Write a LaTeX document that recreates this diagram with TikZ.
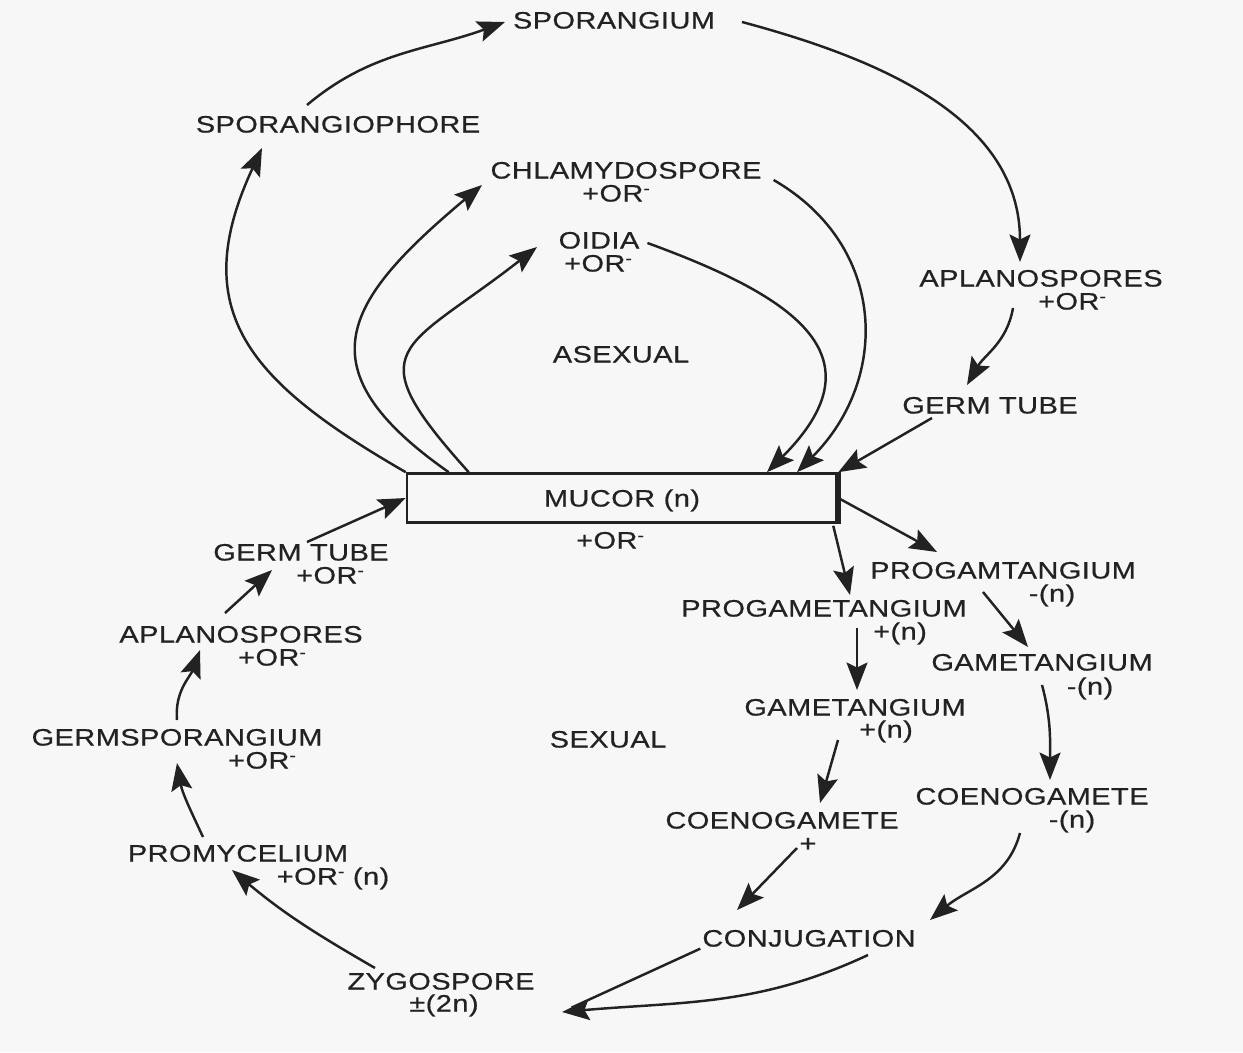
\documentclass[tikz,border=0pt]{standalone}
\usepackage{fontspec}
\usepackage{xcolor}
\usepackage{tikz}
\usetikzlibrary{arrows.meta,positioning,calc}
\newfontfamily\labelfont[FakeStretch=1.22, LetterSpace=2, FakeBold=0.6]{Liberation Sans}
\newcommand\orsign{+OR\raisebox{0.33em}{\fontsize{9}{9}\selectfont -}}
\definecolor{ink}{RGB}{34,34,34}
\definecolor{paper}{RGB}{247,247,247}

\begin{document}
\begin{tikzpicture}[x=0.02cm, y=-0.02cm,
    lbl/.style={inner sep=1pt, text=ink, text height=9.7pt, text depth=0pt,
                font=\labelfont\fontsize{13.5}{16}\selectfont},
    arr/.style={draw=ink, line width=1.4pt, -{Stealth[length=5.5mm,width=4.2mm,inset=1mm]}},
    lnk/.style={draw=ink, line width=1.4pt}]
        \fill[paper] (0,0) rectangle (1243,1052);
        \useasboundingbox (0,0) rectangle (1243,1052);

        \node[lbl] (spor) at (614,20) {SPORANGIUM};
        \node[lbl] (spph) at (338,124) {SPORANGIOPHORE};
        \node[lbl] (chla) at (626,170) {CHLAMYDOSPORE};
        \node[lbl] (chlapm) at (616,193) {\orsign};
        \node[lbl] (oid) at (599,240) {OIDIA};
        \node[lbl] (oidpm) at (598,263) {\orsign};
        \node[lbl] (asex) at (621,354) {ASEXUAL};
        \node[lbl] (aplr) at (1041,278) {APLANOSPORES};
        \node[lbl] (aplrpm) at (1072,301) {\orsign};
        \node[lbl] (gtr) at (990,405) {GERM TUBE};

        \node[lbl, draw=ink, line width=1.5pt, minimum width=8.6cm, minimum height=0.98cm] (mucor) at (622,498) {MUCOR (n)};
        \node[lbl] (mucpm) at (610,540) {\orsign};

        \node[lbl] (pgmr) at (1003,570) {PROGAMTANGIUM};
        \node[lbl] (pgmrpm) at (1052,593) {-(n)};
        \node[lbl] (pgml) at (824,608) {PROGAMETANGIUM};
        \node[lbl] (pgmlpm) at (900,631) {+(n)};
        \node[lbl] (gmr) at (1042,662) {GAMETANGIUM};
        \node[lbl] (gmrpm) at (1090,686) {-(n)};
        \node[lbl] (gml) at (855,707) {GAMETANGIUM};
        \node[lbl] (gmlpm) at (886,729) {+(n)};
        \node[lbl] (sex) at (608,739) {SEXUAL};
        \node[lbl] (coer) at (1032,796) {COENOGAMETE};
        \node[lbl] (coerpm) at (1072,819) {-(n)};
        \node[lbl] (coel) at (782,820) {COENOGAMETE};
        \node[lbl] (coelpm) at (808,843) {+};
        \node[lbl] (conj) at (809,938) {CONJUGATION};
        \node[lbl] (zyg) at (441,981) {ZYGOSPORE};
        \node[lbl] (zygpm) at (444,1003) {±(2n)};

        \node[lbl] (prom) at (238,853) {PROMYCELIUM};
        \node[lbl] (prompm) at (333,876) {\orsign\ (n)};
        \node[lbl] (gsp) at (177,737) {GERMSPORANGIUM};
        \node[lbl] (gsppm) at (262,760) {\orsign};
        \node[lbl] (apll) at (241,634) {APLANOSPORES};
        \node[lbl] (apllpm) at (272,657) {\orsign};
        \node[lbl] (gtl) at (301,552) {GERM TUBE};
        \node[lbl] (gtlpm) at (330,575) {\orsign};

        \draw[line width=3.5pt, ink] (mucor.north east) -- (mucor.south east);
        \coordinate (zygin) at ($(zyg)+(121,31)$);

        \draw[arr] ($(spph)+(-31,-19)$) to[out=40,in=200] ($(spor)+(-109,2)$);
        \draw[arr] ($(spor)+(128,2)$) to[out=-15,in=90] ($(aplr)+(-21,-16)$);
        \draw[arr] ($(aplr)+(-28,30)$) to[out=-100,in=60] ($(gtr)+(-23,-20)$);
        \draw[arr] ($(gtr)+(-58,13)$) to[out=-150,in=30] (mucor.north east);
        \draw[arr] ($(chla.east)+(10,10)$) to[out=-30,in=45,looseness=1.15] ($(mucor.north)+(175,0)$);
        \draw[arr] ($(oid.east)+(6,3)$) to[out=-20,in=45,looseness=1.6] ($(mucor.north)+(145,0)$);
        \draw[arr] (mucor.north west) to[out=150,in=245,looseness=1.3] ($(spph)+(-76,24)$);
        \draw[arr] ($(mucor.north west)+(43,0)$) to[out=145,in=220,looseness=1.6] ($(chla)+(-144,15)$);
        \draw[arr] ($(mucor.north west)+(63,0)$) to[out=132,in=218,looseness=1.85] ($(oid)+(-62,7)$);

        \draw[arr] ($(gtl)+(6,-10)$) -- (mucor.west);
        \draw[arr] ($(apll)+(-16,-21)$) -- ($(gtl)+(-29,18)$);
        \draw[arr] ($(gsp)+(0,-17)$) to[out=95,in=250] ($(apll)+(-41,16)$);
        \draw[arr] ($(prom)+(-35,-16)$) to[out=115,in=280] ($(gsp)+(0,26)$);
        \draw[arr] ($(zyg)+(-66,-13)$) to[out=150,in=-40] ($(prom)+(-6,17)$);

        \draw[arr] (mucor.east) -- ($(pgmr)+(-66,-18)$);
        \draw[arr] ($(mucor.south east)+(-5,2)$) -- ($(pgml)+(26,-13)$);
        \draw[arr] ($(pgmr)+(-20,22)$) -- ($(gmr)+(-14,-15)$);
        \draw[arr] ($(pgml)+(33,20)$) -- ($(gml)+(2,-17)$);
        \draw[arr] ($(gmr)+(0,23)$) to[out=-75,in=90] ($(coer)+(18,-16)$);
        \draw[arr] ($(gml)+(-17,33)$) -- ($(coel)+(38,-17)$);
        \draw[arr] ($(coel)+(15,28)$) -- ($(conj)+(-72,-28)$);
        \draw[arr] ($(coer)+(-12,37)$) to[out=-105,in=40] ($(conj)+(121,-18)$);
        \draw[arr] ($(conj)+(59,17)$) to[out=205,in=5] (zygin);
        \draw[lnk, shorten >=6pt] (conj.south west) -- (zygin);
      \end{tikzpicture}
\end{document}
